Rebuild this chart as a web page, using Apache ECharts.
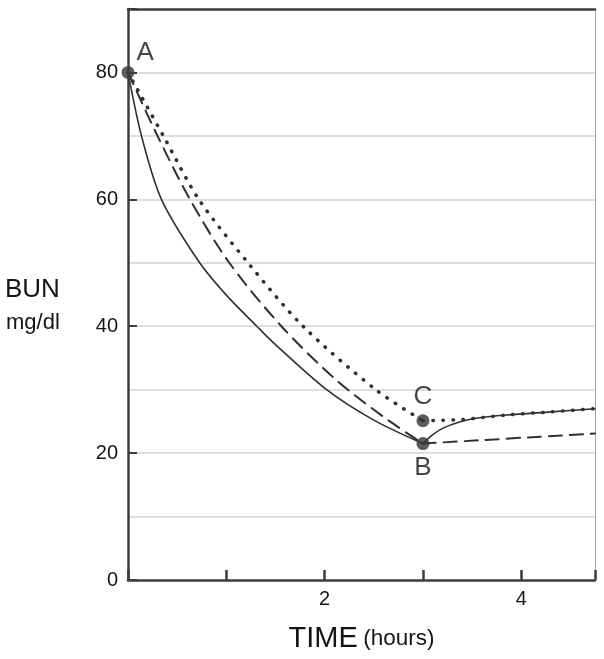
<!DOCTYPE html>
<html>
<head>
<meta charset="utf-8">
<script src="https://cdn.jsdelivr.net/npm/echarts@6/dist/echarts.min.js"></script>
<style>
html,body{margin:0;padding:0;background:#fff;}
#chart{width:604px;height:659px;}
</style>
</head>
<body>
<div id="chart"></div>
<script>
// ---- data (time in hours, BUN in mg/dl) ----
var solidFall   = [[0,80],[0.137,70],[0.34,60],[0.72,50.2],[1.0,44.9],[1.31,40],[1.5,37.1],[2.02,30],[2.5,25.2],[3.0,21.5]];
var solidRise   = [[3.0,21.5],[3.1,22.9],[3.2,23.9],[3.37,24.9],[3.54,25.5],[3.85,26.0],[4.3,26.5],[4.75,27.0]];
var dashedFall  = [[0,80],[0.3,70],[0.63,60],[1.03,50],[1.56,40],[2.12,31.5],[2.6,25.7],[3.0,21.5]];
var dashedRise  = [[3.0,21.5],[4.75,23.1]];
var dottedFall  = [[0,80],[0.36,70],[0.72,60],[1.22,50],[1.78,40],[2.52,30],[3.0,25.1]];
var dottedRise  = [[3.0,25.1],[3.4,25.3],[3.85,26.0],[4.3,26.5],[4.75,27.0]];
var keyPoints   = [{name:'A',value:[0,80]},{name:'B',value:[3.0,21.5]},{name:'C',value:[3.0,25.1]}];
var xTickLabels = ['2','4'];
var yTickLabels = ['0','20','40','60','80'];

var FONT = '"Liberation Sans", Arial, Helvetica, sans-serif';
var AX = '#3c3c3c';
var TXT = '#151515';
var chart = echarts.init(document.getElementById('chart'));

function lineSeries(data, width, dash){
  return {
    type:'line', data:data, xAxisIndex:0, yAxisIndex:0,
    showSymbol:false, smooth:0.3, silent:true,
    lineStyle:{color:'#303030', width:width, type:dash, cap:'round'},
    z:3
  };
}
var labelPos = {A:{position:'right', offset:[-4,-20]}, B:{position:'bottom', offset:[0,-1]}, C:{position:'top', offset:[0,2]}};

chart.setOption({
  animation:false,
  backgroundColor:'#fff',
  grid:{left:128, right:9, top:9, bottom:79, containLabel:false},
  xAxis:[{
    type:'value', min:0, max:4.75, interval:1,
    axisLine:{show:true, onZero:false, lineStyle:{color:AX, width:2.5}},
    axisTick:{show:true, inside:true, length:10, lineStyle:{color:AX, width:2.5}},
    axisLabel:{show:true, margin:9, fontSize:20, color:TXT, fontFamily:FONT,
      formatter:function(v){ var s=String(v); return xTickLabels.indexOf(s)>=0 ? s : ''; }},
    splitLine:{show:false},
    name:'{a|TIME}{s| }{b|(hours)}', nameLocation:'middle', nameGap:44,
    nameTextStyle:{rich:{a:{fontSize:29, fontFamily:FONT, color:TXT}, s:{fontSize:20, fontFamily:FONT}, b:{fontSize:22.5, fontFamily:FONT, color:TXT}}}
  },{
    type:'value', position:'top', min:0, max:4.75, z:10,
    axisLine:{show:true, onZero:false, lineStyle:{color:AX, width:2.5}},
    axisTick:{show:false}, axisLabel:{show:false}, splitLine:{show:false}
  }],
  yAxis:[{
    type:'value', min:0, max:90, interval:10,
    axisLine:{show:false}, axisTick:{show:false}, axisLabel:{show:false},
    splitLine:{show:true, showMaxLine:false, showMinLine:false, lineStyle:{color:'#dedede', width:2}}
  },{
    type:'value', min:0, max:90, interval:20, position:'left', z:10,
    axisLine:{show:true, onZero:false, lineStyle:{color:AX, width:2.5}},
    axisTick:{show:true, inside:true, length:9, lineStyle:{color:AX, width:2}},
    axisLabel:{show:true, margin:10, fontSize:20, color:TXT, fontFamily:FONT,
      formatter:function(v){ var s=String(v); return yTickLabels.indexOf(s)>=0 ? s : ''; }},
    splitLine:{show:false}
  },{
    type:'value', min:0, max:90, position:'right',
    axisLine:{show:true, onZero:false, lineStyle:{color:'#a8a8a8', width:1}},
    axisTick:{show:false}, axisLabel:{show:false}, splitLine:{show:false}
  }],
  graphic:[
    {type:'text', left:5, top:277, style:{text:'BUN', font:'26px '+FONT, fill:TXT}},
    {type:'text', left:6, top:312, style:{text:'mg/dl', font:'22px '+FONT, fill:TXT}}
  ],
  series:[
    lineSeries(solidFall,1.6,'solid'),
    lineSeries(solidRise,1.6,'solid'),
    lineSeries(dashedFall,2,[13,8]),
    lineSeries(dashedRise,2,[13,8]),
    lineSeries(dottedFall,3.5,[0.5,9.5]),
    lineSeries(dottedRise,3.5,[0.5,9.5]),
    {
      type:'scatter', data:keyPoints.map(function(p){
        return {name:p.name, value:p.value, label:{show:true, formatter:p.name, position:labelPos[p.name].position, offset:labelPos[p.name].offset}};
      }),
      symbolSize:13, itemStyle:{color:'#333'}, z:5, silent:true,
      label:{fontSize:26, fontFamily:FONT, color:TXT, distance:6}
    }
  ]
});
</script>
</body>
</html>
